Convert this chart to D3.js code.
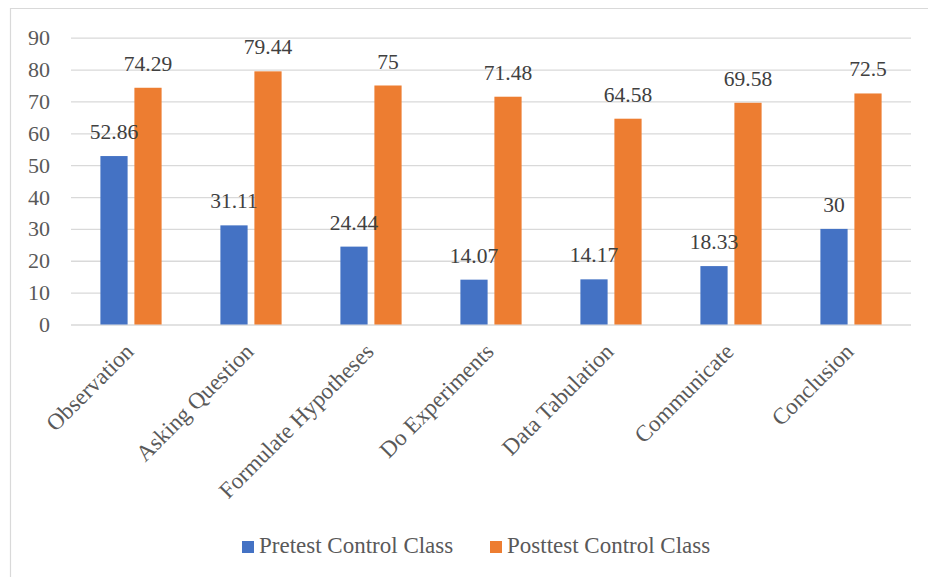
<!DOCTYPE html>
<html><head><meta charset="utf-8">
<script src="https://cdn.jsdelivr.net/npm/d3@7"></script>
<style>body{margin:0;background:#fff}svg{display:block}</style>
</head><body><svg id="c" width="928" height="577"></svg>
<script>
const categories = ["Observation","Asking Question","Formulate Hypotheses","Do Experiments","Data Tabulation","Communicate","Conclusion"];
const seriesNames = ["Pretest Control Class","Posttest Control Class"];
const pretest = [52.86,31.11,24.44,14.07,14.17,18.33,30];
const posttest = [74.29,79.44,75,71.48,64.58,69.58,72.5];
const labelsPre = ["52.86","31.11","24.44","14.07","14.17","18.33","30"];
const labelsPost = ["74.29","79.44","75","71.48","64.58","69.58","72.5"];
const yTicks = [0,10,20,30,40,50,60,70,80,90];

const colors = ["#4472C4","#ED7D31"];
const font = "'Liberation Serif','Times New Roman',serif";
const svg = d3.select("#c");

svg.append("path").attr("d","M10.5,577V8.5H928").attr("fill","none").attr("stroke","#d9d9d9").attr("stroke-width",1.2);

const y = d3.scaleLinear().domain([0,90]).range([324.5,37.7]);
const x0 = d3.scaleBand().domain(categories).range([71,911]).paddingInner(0.49).paddingOuter(0.245);
const x1 = d3.scaleBand().domain(seriesNames).range([0,x0.bandwidth()]).paddingInner(0.2);

// gridlines
const yAxis = d3.axisLeft(y).tickValues(yTicks).tickSize(-(911-71)).tickPadding(21);
const ga = svg.append("g").attr("transform","translate(71,0)").call(yAxis);
ga.select(".domain").remove();
ga.selectAll(".tick line").attr("stroke","#d9d9d9").attr("stroke-width",1.3);
ga.selectAll(".tick text").attr("font-family",font).attr("font-size",22).attr("fill","#595959");

const data = categories.map((c,i)=>({c, vals:[pretest[i],posttest[i]], labs:[labelsPre[i],labelsPost[i]]}));
const groups = svg.append("g").selectAll("g").data(data).join("g")
  .attr("transform",d=>`translate(${x0(d.c)},0)`);
groups.selectAll("rect").data(d=>d.vals.map((v,j)=>({v,j}))).join("rect")
  .attr("x",d=>x1(seriesNames[d.j])).attr("width",x1.bandwidth())
  .attr("y",d=>y(d.v)).attr("height",d=>y(0)-y(d.v))
  .attr("fill",d=>colors[d.j]);
groups.selectAll("text").data(d=>d.vals.map((v,j)=>({v,j,l:d.labs[j]}))).join("text")
  .attr("x",d=>x1(seriesNames[d.j])+x1.bandwidth()/2).attr("y",d=>y(d.v)-17)
  .attr("text-anchor","middle").attr("font-family",font).attr("font-size",21.5).attr("fill","#404040")
  .text(d=>d.l);

// category labels
svg.append("g").selectAll("text").data(categories).join("text")
  .attr("transform",d=>`translate(${x0(d)+x0.bandwidth()/2+4},353) rotate(-45)`)
  .attr("text-anchor","end").attr("font-family",font).attr("font-size",23).attr("fill","#595959")
  .text(d=>d);

// legend
const legX = [242,490];
const lg = svg.append("g").selectAll("g").data(seriesNames).join("g")
  .attr("transform",(d,i)=>`translate(${legX[i]},541)`);
lg.append("rect").attr("width",12).attr("height",12).attr("fill",(d,i)=>colors[i]);
lg.append("text").attr("x",17).attr("y",12).attr("font-family",font).attr("font-size",23).attr("fill","#595959").text(d=>d);
</script></body></html>
